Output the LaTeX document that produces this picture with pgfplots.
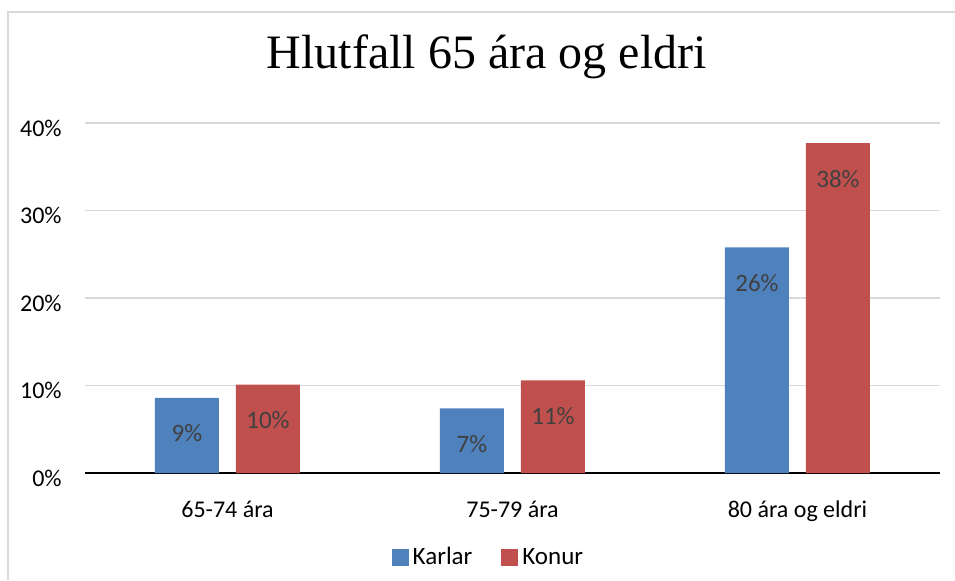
\documentclass[border=0pt]{standalone}
\usepackage{pgfplots}
\pgfplotsset{compat=1.18}
\usepackage{fontspec}
\setmainfont{Carlito}
\newfontfamily\titlefont{Liberation Serif}
\definecolor{cblue}{HTML}{4F81BD}
\definecolor{cred}{HTML}{C0504D}
\definecolor{cgrid}{HTML}{D9D9D9}
\definecolor{clab}{HTML}{404040}
\begin{document}
\begin{tikzpicture}
\useasboundingbox (0,0) rectangle (477.5pt,290pt);
\draw[cgrid, line width=0.9pt] (4pt,0) -- (4pt,284pt) -- (477.5pt,284pt);
\begin{axis}[
  at={(42.5pt,53.5pt)}, anchor=south west,
  scale only axis, width=427.5pt, height=175pt,
  ybar=8.5pt, bar width=32pt,
  xmin=-0.5, xmax=2.5, ymin=0, ymax=40,
  xtick={0,1,2}, xticklabels={65-74 ára,75-79 ára,80 ára og eldri},
  ytick={0,10,20,30,40}, yticklabels={0\%,10\%,20\%,30\%,40\%},
  axis x line*=bottom, axis y line*=left,
  y axis line style={draw=none},
  x axis line style={black, line width=0.9pt, -},
  major tick length=0pt,
  ymajorgrids, grid style={cgrid, line width=0.8pt},
  tick label style={font=\fontsize{12}{14}\selectfont, text=black},
  xticklabel style={anchor=base, yshift=-22pt},
  yticklabel style={anchor=east, inner sep=0pt, xshift=-11.5pt, yshift=-2.5pt},
  nodes near coords={\pgfmathprintnumber[fixed,precision=0,assume math mode=true]{\pgfplotspointmeta}\%},
  nodes near coords style={anchor=center, yshift=-17.75pt, font=\fontsize{12.5}{14}\selectfont, text=clab},
  title={\titlefont\fontsize{24}{28}\selectfont Hlutfall 65 ára og eldri},
  every axis title/.style={at={(axis description cs:0.470,1.157)}, anchor=base},
  legend style={at={(axis description cs:0.473,-0.242)}, anchor=center, draw=none,
    font=\fontsize{12.5}{14}\selectfont, legend columns=2,
    /tikz/every even column/.append style={column sep=12.5pt}},
  legend image code/.code={\fill[#1] (0pt,-4.25pt) rectangle (8.5pt,4.25pt);},
]
\addplot[fill=cblue, draw=none] coordinates {(0,8.6) (1,7.4) (2,25.8)};
\addplot[fill=cred, draw=none] coordinates {(0,10.1) (1,10.6) (2,37.7)};
\legend{Karlar,Konur}
\end{axis}
\end{tikzpicture}
\end{document}
